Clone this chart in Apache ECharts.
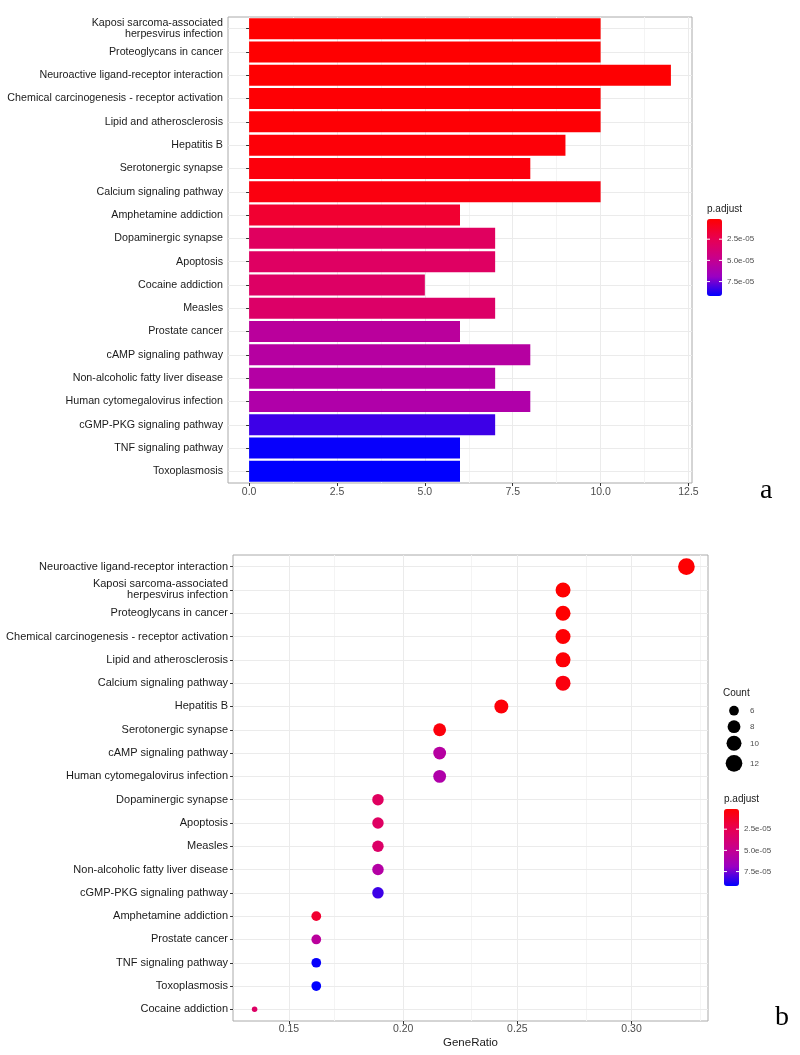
<!DOCTYPE html>
<html><head><meta charset="utf-8">
<script src="https://cdn.jsdelivr.net/npm/echarts@6/dist/echarts.min.js"></script>
<style>html,body{margin:0;padding:0;background:#fff}#c{width:800px;height:1055px}</style>
</head><body><div id="c"></div>
<script>
// ---------- Panel a: bar chart (Count by pathway, ordered by p.adjust) ----------
const catsA = [
  'Kaposi sarcoma-associated\nherpesvirus infection',
  'Proteoglycans in cancer',
  'Neuroactive ligand-receptor interaction',
  'Chemical carcinogenesis - receptor activation',
  'Lipid and atherosclerosis',
  'Hepatitis B',
  'Serotonergic synapse',
  'Calcium signaling pathway',
  'Amphetamine addiction',
  'Dopaminergic synapse',
  'Apoptosis',
  'Cocaine addiction',
  'Measles',
  'Prostate cancer',
  'cAMP signaling pathway',
  'Non-alcoholic fatty liver disease',
  'Human cytomegalovirus infection',
  'cGMP-PKG signaling pathway',
  'TNF signaling pathway',
  'Toxoplasmosis'
];
const countA = [10, 10, 12, 10, 10, 9, 8, 10, 6, 7, 7, 5, 7, 6, 8, 7, 8, 7, 6, 6];
const padjA = [1.2e-6, 1.5e-6, 1.8e-6, 2.2e-6, 2.6e-6, 3.5e-6, 4.5e-6, 5.5e-6, 1.5e-5, 3.0e-5,
               3.1e-5, 3.2e-5, 3.3e-5, 5.4e-5, 5.6e-5, 5.7e-5, 5.9e-5, 8.3e-5, 9.1e-5, 9.2e-5];

// ---------- Panel b: dot plot (GeneRatio by pathway) ----------
const catsB = [
  'Neuroactive ligand-receptor interaction',
  'Kaposi sarcoma-associated\nherpesvirus infection',
  'Proteoglycans in cancer',
  'Chemical carcinogenesis - receptor activation',
  'Lipid and atherosclerosis',
  'Calcium signaling pathway',
  'Hepatitis B',
  'Serotonergic synapse',
  'cAMP signaling pathway',
  'Human cytomegalovirus infection',
  'Dopaminergic synapse',
  'Apoptosis',
  'Measles',
  'Non-alcoholic fatty liver disease',
  'cGMP-PKG signaling pathway',
  'Amphetamine addiction',
  'Prostate cancer',
  'TNF signaling pathway',
  'Toxoplasmosis',
  'Cocaine addiction'
];
const ratioB = [0.324, 0.270, 0.270, 0.270, 0.270, 0.270, 0.243, 0.216, 0.216, 0.216,
                0.189, 0.189, 0.189, 0.189, 0.189, 0.162, 0.162, 0.162, 0.162, 0.135];
const countB = [12, 10, 10, 10, 10, 10, 9, 8, 8, 8, 7, 7, 7, 7, 7, 6, 6, 6, 6, 5];

// ---------- ticks ----------
const xTicksA = [0, 2.5, 5, 7.5, 10, 12.5];
const xMinorA = [1.25, 3.75, 6.25, 8.75, 11.25];
const xTicksB = [0.15, 0.20, 0.25, 0.30];
const xMinorB = [0.175, 0.225, 0.275, 0.325];
const colorTicks = [2.5e-5, 5.0e-5, 7.5e-5];
const colorTickLabels = ['2.5e-05', '5.0e-05', '7.5e-05'];
const countLegend = [6, 8, 10, 12];

// ---------- derived ----------
const padjByName = {};
catsA.forEach((c, i) => { padjByName[c] = padjA[i]; });
const pMin = Math.min(...padjA), pMax = Math.max(...padjA);
const cMin = Math.min(...countB), cMax = Math.max(...countB);
const sizeOf = c => 5.5 + 11.2 * Math.sqrt((c - cMin) / (cMax - cMin));
const colorStops = ['#FF0000', '#E80050', '#CA0089', '#9A00C3', '#0000FF'];

const FONT = 'Liberation Sans, Arial, sans-serif';
const GRID_MAJOR = '#EBEBEB', GRID_MINOR = '#F4F4F4';

// x ranges with ggplot-like expansion
const maxA = Math.max(...countA);
const xMinA = -0.05 * maxA, xMaxA = maxA * 1.05;
const rMin = Math.min(...ratioB), rMax = Math.max(...ratioB);
const xMinB = rMin - 0.05 * (rMax - rMin), xMaxB = rMax + 0.05 * (rMax - rMin);

const gridLines = (majors, minors, cats) => [
  ...minors.map(v => ({ xAxis: v, lineStyle: { color: GRID_MINOR, width: 1, type: 'solid' } })),
  ...majors.map(v => ({ xAxis: v, lineStyle: { color: GRID_MAJOR, width: 1, type: 'solid' } })),
  ...cats.map(c => ({ yAxis: c, lineStyle: { color: GRID_MAJOR, width: 1, type: 'solid' } }))
];
const bgSeries = (idx, majors, minors, cats) => ({
  type: 'line', xAxisIndex: idx, yAxisIndex: idx, data: [], z: 0, zlevel: 0, silent: true,
  markLine: {
    z: 0, silent: true, symbol: ['none', 'none'], label: { show: false }, animation: false,
    emphasis: { disabled: true }, data: gridLines(majors, minors, cats)
  }
});

// layout
const cbA = { left: 707, top: 219, w: 15, h: 77 };
const cbB = { left: 724, top: 809, w: 15, h: 77 };

const chart = echarts.init(document.getElementById('c'), null, { renderer: 'canvas' });

const graphics = [];
function colorbarTicks(cb) {
  colorTicks.forEach((v, i) => {
    const y = cb.top + (v - pMin) / (pMax - pMin) * cb.h;
    graphics.push({ type: 'line', shape: { x1: cb.left, y1: y, x2: cb.left + 3, y2: y }, style: { stroke: '#fff', lineWidth: 1 }, z: 100 });
    graphics.push({ type: 'line', shape: { x1: cb.left + cb.w - 3, y1: y, x2: cb.left + cb.w, y2: y }, style: { stroke: '#fff', lineWidth: 1 }, z: 100 });
    graphics.push({ type: 'text', x: cb.left + cb.w + 5, y: y, style: { text: colorTickLabels[i], font: '8px ' + FONT, fill: '#4d4d4d', textVerticalAlign: 'middle' }, z: 100 });
  });
  graphics.push({ type: 'text', x: cb.left, y: cb.top - 5, style: { text: 'p.adjust', font: '10px ' + FONT, fill: '#1a1a1a', textVerticalAlign: 'bottom' }, z: 100 });
}
colorbarTicks(cbA);
colorbarTicks(cbB);
// Count legend (size)
const countLegendY = [710.7, 726.7, 743.3, 763.3];
graphics.push({ type: 'text', x: 723, y: 693, style: { text: 'Count', font: '10px ' + FONT, fill: '#1a1a1a', textVerticalAlign: 'middle' } });
countLegend.forEach((c, i) => {
  graphics.push({ type: 'circle', shape: { cx: 734, cy: countLegendY[i], r: sizeOf(c) / 2 }, style: { fill: '#000' } });
  graphics.push({ type: 'text', x: 750, y: countLegendY[i], style: { text: String(c), font: '8px ' + FONT, fill: '#4d4d4d', textVerticalAlign: 'middle' } });
});
// panel letters
graphics.push({ type: 'text', x: 760, y: 505, style: { text: 'a', font: '28px Liberation Serif, Times New Roman, serif', fill: '#000', textVerticalAlign: 'bottom' } });
graphics.push({ type: 'text', x: 775, y: 1032, style: { text: 'b', font: '28px Liberation Serif, Times New Roman, serif', fill: '#000', textVerticalAlign: 'bottom' } });

const catAxis = (idx, cats, fs) => ({
  type: 'category', gridIndex: idx, data: cats, inverse: true,
  axisLine: { show: false },
  axisTick: { show: true, alignWithLabel: true, length: 3, lineStyle: { color: '#333' } },
  axisLabel: { interval: 0, fontSize: fs, color: '#1a1a1a', margin: 5, lineHeight: 11, fontFamily: FONT, align: 'right' },
  splitLine: { show: false }
});

chart.setOption({
  animation: false,
  backgroundColor: '#fff',
  grid: [
    { left: 228, top: 17, width: 464, height: 466, show: true, borderColor: '#aaa', borderWidth: 1, backgroundColor: 'transparent', containLabel: false },
    { left: 233, top: 555, width: 475, height: 466, show: true, borderColor: '#aaa', borderWidth: 1, backgroundColor: 'transparent', containLabel: false }
  ],
  xAxis: [
    { type: 'value', gridIndex: 0, min: xMinA, max: xMaxA,
      axisLine: { show: false },
      axisTick: { show: true, length: 3, lineStyle: { color: '#333' }, customValues: xTicksA },
      axisLabel: { customValues: xTicksA, formatter: v => v.toFixed(1), fontSize: 10.5, color: '#4d4d4d', margin: 4, fontFamily: FONT },
      splitLine: { show: false } },
    { type: 'value', gridIndex: 1, min: xMinB, max: xMaxB,
      name: 'GeneRatio', nameLocation: 'middle', nameGap: 16,
      nameTextStyle: { fontSize: 11.5, color: '#1a1a1a', fontFamily: FONT },
      axisLine: { show: false },
      axisTick: { show: true, length: 3, lineStyle: { color: '#333' }, customValues: xTicksB },
      axisLabel: { customValues: xTicksB, formatter: v => v.toFixed(2), fontSize: 10.5, color: '#4d4d4d', margin: 3, fontFamily: FONT },
      splitLine: { show: false } }
  ],
  yAxis: [catAxis(0, catsA, 10.7), catAxis(1, catsB, 11)],
  visualMap: [
    { type: 'continuous', seriesIndex: 0, dimension: 2, min: pMin, max: pMax, inverse: true,
      orient: 'vertical', left: cbA.left, top: cbA.top, itemWidth: cbA.w, itemHeight: cbA.h,
      calculable: false, padding: 0, hoverLink: false, inRange: { color: colorStops } },
    { type: 'continuous', seriesIndex: 2, dimension: 2, min: pMin, max: pMax, inverse: true,
      orient: 'vertical', left: cbB.left, top: cbB.top, itemWidth: cbB.w, itemHeight: cbB.h,
      calculable: false, padding: 0, hoverLink: false, inRange: { color: colorStops } }
  ],
  series: [
    { type: 'bar', xAxisIndex: 0, yAxisIndex: 0, z: 5, barWidth: '90%',
      data: catsA.map((c, i) => [countA[i], c, padjA[i]]), silent: true },
    bgSeries(0, xTicksA, xMinorA, catsA),
    { type: 'scatter', xAxisIndex: 1, yAxisIndex: 1, z: 5, symbol: 'circle',
      itemStyle: { opacity: 1 },
      symbolSize: v => sizeOf(v[3]),
      data: catsB.map((c, i) => [ratioB[i], c, padjByName[c], countB[i]]), silent: true },
    bgSeries(1, xTicksB, xMinorB, catsB)
  ],
  graphic: graphics
});
</script>
</body></html>
